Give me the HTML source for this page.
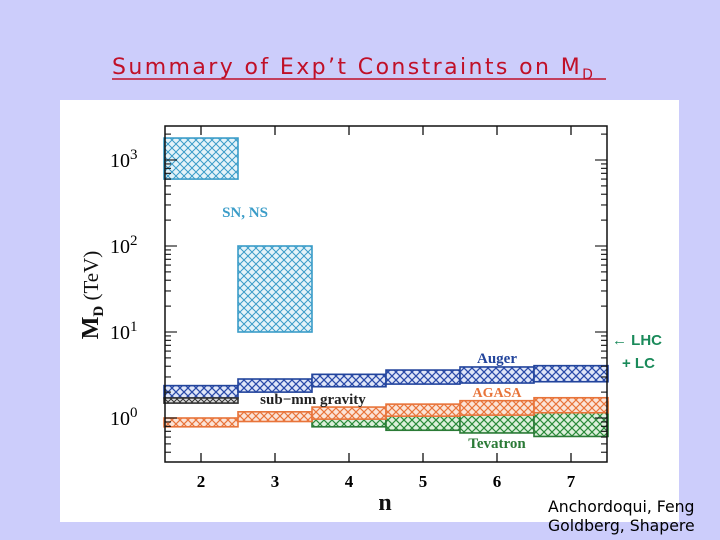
<!DOCTYPE html>
<html><head><meta charset="utf-8"><style>
html,body{margin:0;padding:0;width:720px;height:540px;overflow:hidden;background:#cccdfb;}
svg{position:absolute;left:0;top:0;}
</style></head><body>
<svg width="720" height="540">
<defs>
<pattern id="hb" width="8" height="8" patternUnits="userSpaceOnUse"><rect width="8" height="8" fill="#dfe6f8"/><path d="M0,0L8,8M8,0L0,8" stroke="#2a4aa8" stroke-width="1.3"/></pattern>
<pattern id="hc" width="8" height="8" patternUnits="userSpaceOnUse"><rect width="8" height="8" fill="#e4f3f9"/><path d="M0,0L8,8M8,0L0,8" stroke="#3a9cc8" stroke-width="1"/></pattern>
<pattern id="ho" width="8" height="8" patternUnits="userSpaceOnUse"><rect width="8" height="8" fill="#fbe4d8"/><path d="M0,0L8,8M8,0L0,8" stroke="#e8743a" stroke-width="1.2"/></pattern>
<pattern id="hg" width="8" height="8" patternUnits="userSpaceOnUse"><rect width="8" height="8" fill="#ddf0dc"/><path d="M0,0L8,8M8,0L0,8" stroke="#2a8a3a" stroke-width="1.2"/></pattern>
<pattern id="hk" width="6" height="6" patternUnits="userSpaceOnUse"><rect width="6" height="6" fill="#ddd"/><path d="M0,0L6,6M6,0L0,6" stroke="#333" stroke-width="1"/></pattern>
</defs>
<text x="112" y="74" font-family="DejaVu Sans, sans-serif" font-size="22" letter-spacing="2.4" fill="#c01028">Summary of Exp’t Constraints on M<tspan font-size="14" dy="5">D</tspan></text>
<line x1="112" y1="79" x2="606" y2="79" stroke="#c01028" stroke-width="1.5"/>
<rect x="60" y="100" width="619" height="422" fill="#fff"/>
<g id="plot"></g>
<text x="612" y="345" font-family="Liberation Sans, sans-serif" font-size="15" font-weight="bold" fill="#1a8a5a">← LHC</text>
<text x="622" y="368" font-family="Liberation Sans, sans-serif" font-size="15" font-weight="bold" fill="#1a8a5a">+ LC</text>
<text x="548" y="512" font-family="DejaVu Sans, sans-serif" font-size="15.7" fill="#000">Anchordoqui, Feng</text>
<text x="548" y="531" font-family="DejaVu Sans, sans-serif" font-size="15.7" fill="#000">Goldberg, Shapere</text>
</svg>
<script>
const nValues=[2,3,4,5,6,7];
const yTickExps=[0,1,2,3];
const snN=[2,3];
const snLow=[600,10];
const snHigh=[1800,100];
const augerLow=[1.71,2.0,2.31,2.48,2.55,2.64];
const augerHigh=[2.38,2.84,3.22,3.61,3.92,4.06];
const agasaLow=[0.79,0.91,0.97,1.05,1.08,1.15];
const agasaHigh=[1.0,1.18,1.34,1.45,1.59,1.72];
const tevN=[4,5,6,7];
const tevLow=[0.79,0.72,0.67,0.61];
const tevHigh=[1.14,1.31,1.42,1.54];
const subN=[2];
const subLow=[1.49];
const subHigh=[1.71];

const NS='http://www.w3.org/2000/svg';
const g=document.getElementById('plot');
const X0=165,X1=607,Y0=126,Y1=462;
const xs=n=>201+(n-2)*74;
const ys=v=>418-86*Math.log10(v);
function mk(t,a,p){const e=document.createElementNS(NS,t);for(const k in a)e.setAttribute(k,a[k]);(p||g).appendChild(e);return e;}
function band(ns,lo,hi,fill,stroke,name){
  ns.forEach((n,i)=>{
    const r=mk('rect',{x:xs(n-0.5),y:ys(hi[i]),width:xs(n+0.5)-xs(n-0.5),height:ys(lo[i])-ys(hi[i]),fill:fill,stroke:stroke,'stroke-width':1.6});
    
    
  });
}
band(snN,snLow,snHigh,'url(#hc)','#3a9cc8','sn-ns-band');
band(tevN,tevLow,tevHigh,'url(#hg)','#2a7a36','tevatron-band');
band(nValues,agasaLow,agasaHigh,'url(#ho)','#e8743a','agasa-band');
band(nValues,augerLow,augerHigh,'url(#hb)','#22449c','auger-band');
band(subN,subLow,subHigh,'url(#hk)','#333','sub-mm-gravity-band');
const fr=mk('rect',{x:X0,y:Y0,width:X1-X0,height:Y1-Y0,fill:'none',stroke:'#111','stroke-width':1.5});


nValues.forEach(n=>{
  mk('line',{x1:xs(n),x2:xs(n),y1:Y1,y2:Y1-9,stroke:'#111','stroke-width':1.3});
  mk('line',{x1:xs(n),x2:xs(n),y1:Y0,y2:Y0+9,stroke:'#111','stroke-width':1.3});
  const t=mk('text',{x:xs(n),y:487,'text-anchor':'middle','font-family':'Liberation Serif, serif','font-size':17,'font-weight':'bold'});
  t.textContent=n;
  
  
});
for(let e=-1;e<=3;e++){
  for(let m=1;m<10;m++){
    const v=m*Math.pow(10,e),y=ys(v);
    if(y<Y0||y>Y1)continue;
    const L=m===1?12:6;
    mk('line',{x1:X0,x2:X0+L,y1:y,y2:y,stroke:'#111','stroke-width':1.1});
    mk('line',{x1:X1,x2:X1-L,y1:y,y2:y,stroke:'#111','stroke-width':1.1});
  }
}
yTickExps.forEach(e=>{
  const t=mk('text',{x:110,y:ys(Math.pow(10,e))+7,'font-family':'Liberation Serif, serif','font-size':20});
  t.textContent='10';
  const s=mk('tspan',{'font-size':15,dy:-8},t);s.textContent=e;
  
  
});
function lab(x,y,txt,col,size,name,rot){
  const a={x:x,y:y,'font-family':'Liberation Serif, serif','font-size':size,'font-weight':'bold',fill:col,'text-anchor':'middle'};
  if(rot)a.transform='rotate(-90 '+x+' '+y+')';
  const t=mk('text',a);t.textContent=txt;
  
  return t;
}
lab(245,217,'SN, NS','#3a9cc8',15,'sn-ns-label');
lab(313,404,'sub−mm gravity','#222',15,'sub-mm-gravity-label');
lab(497,363,'Auger','#22449c',15,'auger-label');
lab(497,397,'AGASA','#e8743a',14,'agasa-label');
lab(497,448,'Tevatron','#2a7a36',15,'tevatron-label');
lab(385,510,'n','#111',24,'x-axis-title');
const yt=lab(98,295,'M','#111',24,'y-axis-title',true);
const ds=mk('tspan',{'font-size':15,dy:5},yt);ds.textContent='D';
const us=mk('tspan',{'font-size':21,dy:-5,'font-weight':'normal'},yt);us.textContent=' (TeV)';
</script>
</body></html>
